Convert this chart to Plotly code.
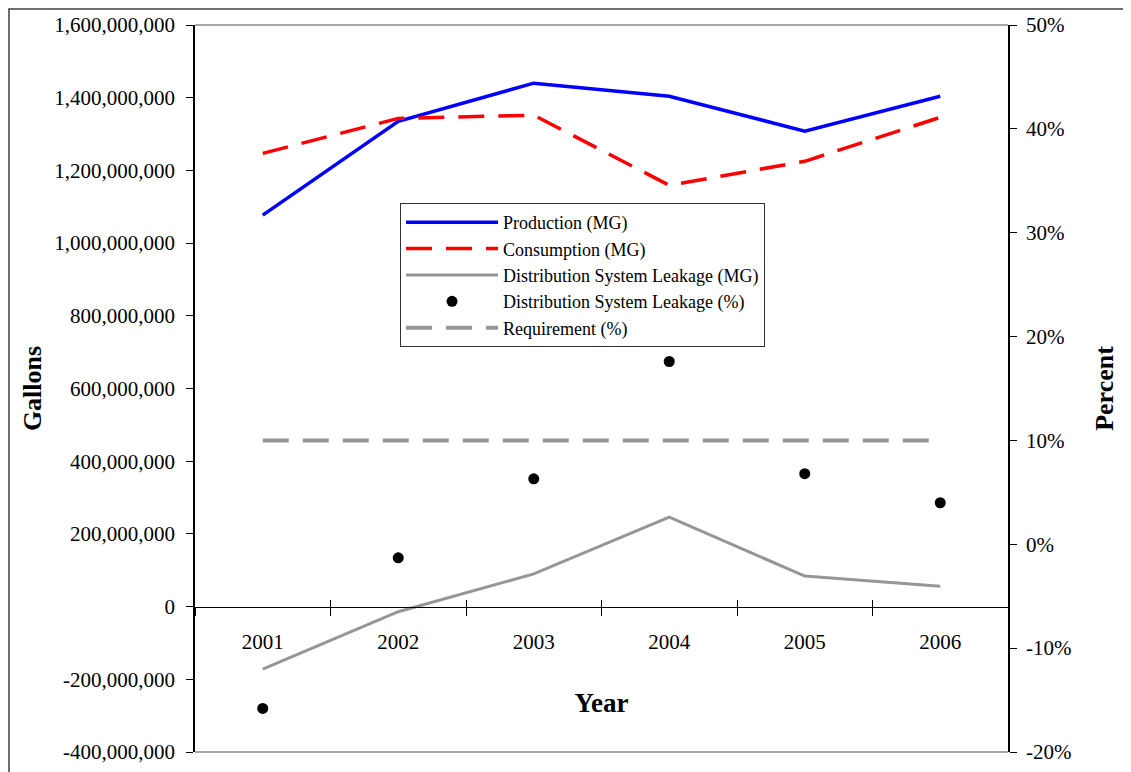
import plotly.graph_objects as go

years = ["2001", "2002", "2003", "2004", "2005", "2006"]
production = [1077e6, 1335e6, 1440e6, 1404e6, 1308e6, 1404e6]
consumption = [1247e6, 1343e6, 1352e6, 1159e6, 1225e6, 1346e6]
leakage_mg = [-172e6, -14e6, 90e6, 246e6, 84e6, 56e6]
leakage_pct = [-15.8, -1.3, 6.3, 17.6, 6.8, 4.0]
requirement_pct = [10, 10, 10, 10, 10, 10]

left_tickvals = [-400e6, -200e6, 0, 200e6, 400e6, 600e6, 800e6, 1000e6, 1200e6, 1400e6, 1600e6]
left_ticktext = ["-400,000,000", "-200,000,000", "0", "200,000,000", "400,000,000",
                 "600,000,000", "800,000,000", "1,000,000,000", "1,200,000,000",
                 "1,400,000,000", "1,600,000,000"]
right_tickvals = [-20, -10, 0, 10, 20, 30, 40, 50]
right_ticktext = ["-20%", "-10%", "0%", "10%", "20%", "30%", "40%", "50%"]

FONT = "Liberation Serif, Times New Roman, serif"
GRAY = "#969696"

fig = go.Figure()
fig.add_trace(go.Scatter(x=years, y=production, name="Production (MG)", mode="lines",
                         line=dict(color="#0000ff", width=3.5)))
fig.add_trace(go.Scatter(x=years, y=consumption, name="Consumption (MG)", mode="lines",
                         line=dict(color="#ff0000", width=3.5, dash="26px,14px")))
fig.add_trace(go.Scatter(x=years, y=leakage_mg, name="Distribution System Leakage (MG)", mode="lines",
                         line=dict(color=GRAY, width=3)))
fig.add_trace(go.Scatter(x=years, y=leakage_pct, name="Distribution System Leakage (%)", mode="markers",
                         marker=dict(color="black", size=11), yaxis="y2"))
fig.add_trace(go.Scatter(x=years, y=requirement_pct, name="Requirement (%)", mode="lines",
                         line=dict(color=GRAY, width=4, dash="26px,14px"), xaxis="x2", yaxis="y2"))

zero_pos = 400e6 / 2000e6
xrange = [-0.5, len(years) - 0.5]

tickfont = dict(family=FONT, size=21, color="black")
fig.update_layout(
    width=1123, height=764,
    margin=dict(l=187, r=123, t=17, b=20),
    paper_bgcolor="white", plot_bgcolor="white",
    font=dict(family=FONT, color="black"),
    showlegend=True,
    legend=dict(x=0.2522, y=0.7552, xanchor="left", yanchor="top",
                bgcolor="white", bordercolor="#333333", borderwidth=1,
                font=dict(family=FONT, size=18, color="black"),
                itemwidth=92, tracegroupgap=0),
    xaxis=dict(type="category", range=xrange, anchor="free", position=zero_pos, automargin=False,
               showline=True, linecolor="black", linewidth=1.2,
               ticks="outside", ticklen=8, tickcolor="black", tickwidth=1.2,
               tickson="boundaries", showgrid=False, zeroline=False,
               tickfont=tickfont, ticklabelstandoff=16,
               title=dict(text="Year", font=dict(family=FONT, size=27, color="black", weight="bold"),
                          standoff=40)),
    xaxis2=dict(type="category", range=xrange, overlaying="x", anchor="free", position=zero_pos,
                automargin=False, showline=False, ticks="inside", ticklen=7, tickcolor="black",
                tickwidth=1.2, tickson="boundaries", showgrid=False, zeroline=False,
                showticklabels=False),
    yaxis=dict(range=[-400e6, 1600e6], tickvals=left_tickvals, ticktext=left_ticktext, automargin=False,
               showline=True, linecolor="black", linewidth=1.5,
               ticks="outside", ticklen=7, tickcolor="black", tickwidth=1.2,
               showgrid=False, zeroline=False, tickfont=tickfont, ticklabelstandoff=7,
               title=dict(text="Gallons", font=dict(family=FONT, size=26, color="black", weight="bold"),
                          standoff=5)),
    yaxis2=dict(range=[-20, 50], tickvals=right_tickvals, ticktext=right_ticktext, automargin=False,
                overlaying="y", side="right", anchor="x",
                showline=True, linecolor="black", linewidth=1.5,
                ticks="outside", ticklen=7, tickcolor="black", tickwidth=1.2,
                showgrid=False, zeroline=False, tickfont=tickfont, ticklabelstandoff=5,
                title=dict(text="Percent", font=dict(family=FONT, size=26, color="black", weight="bold"),
                           standoff=24)),
    yaxis3=dict(range=[-400e6, 1600e6], tickvals=left_tickvals, overlaying="y", side="left", anchor="x",
                automargin=False, showline=False, ticks="inside", ticklen=5, tickcolor="black", tickwidth=1.2,
                showgrid=False, zeroline=False, showticklabels=False),
    yaxis4=dict(range=[-20, 50], tickvals=right_tickvals, overlaying="y", side="right", anchor="x",
                automargin=False, showline=False, ticks="inside", ticklen=5, tickcolor="black", tickwidth=1.2,
                showgrid=False, zeroline=False, showticklabels=False),
    shapes=[
        dict(type="line", xref="paper", yref="paper", x0=0, x1=1, y0=1, y1=1,
             line=dict(color="#8a8a8a", width=1.5)),
        dict(type="line", xref="paper", yref="paper", x0=0, x1=1, y0=0, y1=0,
             line=dict(color="#8a8a8a", width=1.5)),
        dict(type="rect", xref="paper", yref="paper", x0=-0.2288, x1=1.5, y0=-0.5, y1=1.0220,
             line=dict(color="#404040", width=1.5)),
    ],
)

fig.write_html("out.html")
